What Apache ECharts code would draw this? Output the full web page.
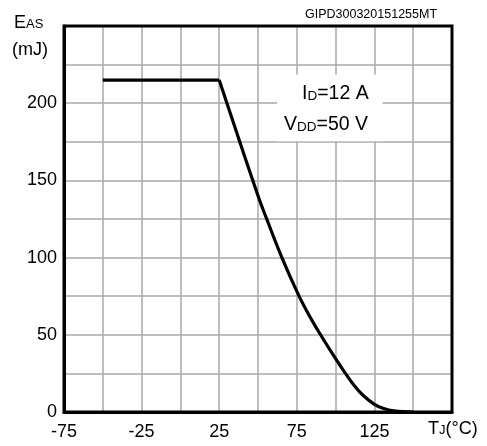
<!DOCTYPE html>
<html>
<head>
<meta charset="utf-8">
<script src="https://cdn.jsdelivr.net/npm/echarts@6/dist/echarts.min.js"></script>
<style>
html,body{margin:0;padding:0;background:#fff;}
#c{width:487px;height:446px;}
</style>
</head>
<body>
<div id="c"></div>
<script>
// Data
const flatT = [-50, 25];
const flatE = [215, 215];
const curveT = [25, 50, 56, 65, 76, 83, 90, 100, 106, 112.5, 118, 125, 131, 137.5, 150];
const curveE = [215, 140, 124, 101, 76, 62.5, 50.5, 34.5, 25.5, 16.5, 10.5, 5, 2.2, 0.7, 0];
const xTickLabels = [-75, -25, 25, 75, 125];
const yTickLabels = [0, 50, 100, 150, 200];
const codeText = 'GIPD300320151255MT';

const FONT = '"Liberation Sans", Arial, sans-serif';
const chart = echarts.init(document.getElementById('c'), null, {renderer: 'canvas'});

const gridCol = '#a8a8a8';
const option = {
  backgroundColor: '#fff',
  animation: false,
  grid: {left: 64, top: 26, right: 35, bottom: 34, show: true, borderColor: '#000', borderWidth: 3, backgroundColor: 'transparent', z: 5},
  xAxis: {
    type: 'value', min: -75, max: 175, interval: 25,
    axisLine: {show: true, onZero: false, lineStyle: {color: '#000', width: 3}},
    axisTick: {show: false},
    splitLine: {show: true, showMinLine: false, showMaxLine: false, lineStyle: {color: gridCol, width: 1.5}},
    axisLabel: {
      color: '#000', fontFamily: FONT, fontSize: 18, margin: 11,
      formatter: v => xTickLabels.indexOf(v) >= 0 ? String(v) : ''
    }
  },
  yAxis: {
    type: 'value', min: 0, max: 250, interval: 25,
    axisLine: {show: true, onZero: false, lineStyle: {color: '#000', width: 3}},
    axisTick: {show: false},
    splitLine: {show: true, showMinLine: false, showMaxLine: false, lineStyle: {color: gridCol, width: 1.5}},
    axisLabel: {
      color: '#000', fontFamily: FONT, fontSize: 18, margin: 7,
      formatter: v => yTickLabels.indexOf(v) >= 0 ? String(v) : ''
    }
  },
  series: [
    {type: 'line', data: flatT.map((t, i) => [t, flatE[i]]), symbol: 'none', lineStyle: {color: '#000', width: 3.2}, z: 3},
    {type: 'line', data: curveT.map((t, i) => [t, curveE[i]]), symbol: 'none', smooth: 0.4, lineStyle: {color: '#000', width: 3.2}, z: 3}
  ]
};
chart.setOption(option);

const p1 = chart.convertToPixel({gridIndex: 0}, [62.3, 218.6]);
const p2 = chart.convertToPixel({gridIndex: 0}, [130.3, 175.4]);

const big = {fontFamily: FONT, fontSize: 19.5, fill: '#000', lineHeight: 22, verticalAlign: 'bottom'};
const small = {fontFamily: FONT, fontSize: 13.5, fill: '#000', lineHeight: 22, verticalAlign: 'bottom', padding: [0, 0, 1, 0]};
const big2 = {fontFamily: FONT, fontSize: 18, fill: '#000', lineHeight: 22, verticalAlign: 'bottom'};
const small2 = {fontFamily: FONT, fontSize: 13, fill: '#000', lineHeight: 22, verticalAlign: 'bottom', padding: [0, 0, 1, 0]};

chart.setOption({
  graphic: [
    {type: 'rect', z: 2, shape: {x: p1[0], y: p1[1], width: p2[0] - p1[0], height: p2[1] - p1[1]}, style: {fill: '#fff'}},
    {type: 'text', z: 10, left: 302, top: 84, style: {text: '{b|I}{s|D}{b|=12 A}', rich: {b: big, s: small}}},
    {type: 'text', z: 10, left: 284, top: 115, style: {text: '{b|V}{s|DD}{b|=50 V}', rich: {b: big, s: small}}},
    {type: 'text', z: 10, left: 14, top: 14, style: {text: '{b|E}{s|AS}', rich: {b: big2, s: small2}}},
    {type: 'text', z: 10, left: 12, top: 41, style: {text: '(mJ)', fontFamily: FONT, fontSize: 18, fill: '#000'}},
    {type: 'text', z: 10, left: 428, top: 420, style: {text: '{b|T}{s|J}{b|(°C)}', rich: {b: big2, s: small2}}},
    {type: 'text', z: 10, left: 305, top: 8, style: {text: codeText, fontFamily: FONT, fontSize: 12.5, fill: '#000'}}
  ]
});
</script>
</body>
</html>
